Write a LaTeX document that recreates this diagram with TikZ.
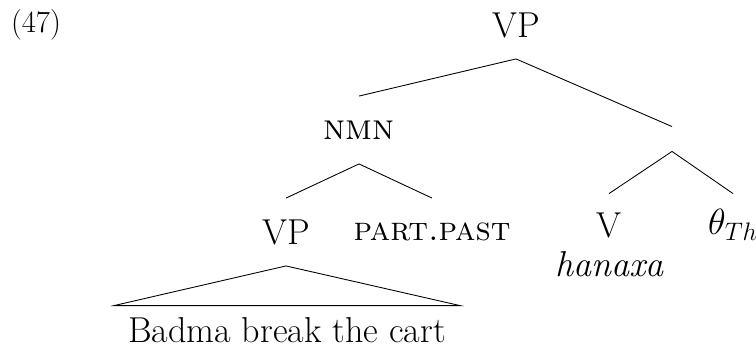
\documentclass[tikz,border=0pt]{standalone}
\usepackage{tikz}
\usetikzlibrary{calc,positioning}

\begin{document}
\begin{tikzpicture}[x=0.02cm,y=-0.02cm,font=\fontsize{20.5}{24}\selectfont,line width=0.5pt]

\tikzset{catnode/.style={inner sep=0pt,minimum height=1.34cm},
barnode/.style={inner sep=0pt,minimum height=0.48cm,minimum width=0pt},
yieldnode/.style={inner sep=0pt,minimum height=0.96cm,minimum width=6.9cm}}

\useasboundingbox (0,0) rectangle (756,351);

% Example number
\node[font=\fontsize{17.5}{20}\selectfont] (exnum) at (36,25) {(47)};

% Upper nodes
\node[catnode] (vp) at (516,25) {VP};
\node[catnode] (nmn) at (359,130) {\textsc{nmn}};
\node[barnode] (vbar) at (672,139) {};

% Lower nodes
\node[catnode] (vpl) at (286,232) {VP};
\node[catnode,font=\fontsize{19}{22}\selectfont] (past) at (432,232) {\textsc{part.past}};
\node[catnode,minimum height=1.24cm] (v) at (609,225) {V};
\node[catnode,minimum height=1.24cm] (theta) at (733,225) {$\theta_{Th}$};

% Words
\node (hanaxa) at (610,264) {\textit{hanaxa}};
\node[yieldnode] (cart) at (287,330) {Badma break the cart};

% Branches
\draw (vp.south) -- (nmn.north);
\draw (vp.south) -- (vbar.north);
\draw (nmn.south) -- (vpl.north);
\draw (nmn.south) -- (past.north);
\draw (vbar.south) -- (v.north);
\draw (vbar.south) -- (theta.north);

% Roof
\draw (vpl.south) -- (cart.north west) -- (cart.north east) -- cycle;

\end{tikzpicture}
\end{document}
